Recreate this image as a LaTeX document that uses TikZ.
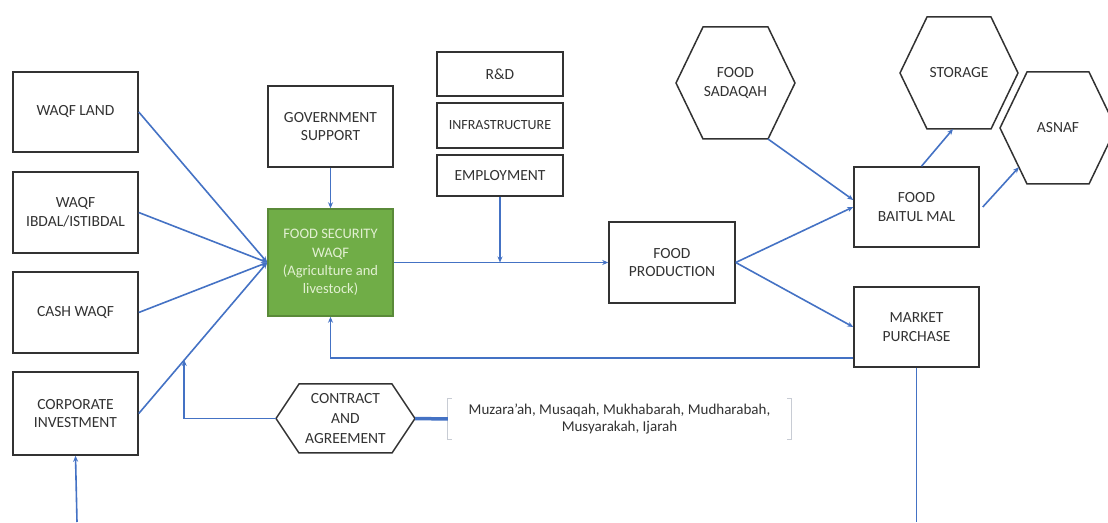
\documentclass[tikz,border=0pt]{standalone}
\usepackage{fontspec}
\setmainfont{Carlito}
\usetikzlibrary{arrows.meta}
\usetikzlibrary{calc}
\usepackage{xcolor}

\definecolor{lineblue}{RGB}{68,114,196}
\definecolor{waqfgreen}{RGB}{112,173,71}
\definecolor{palegreen}{RGB}{226,240,210}
\definecolor{inkgray}{RGB}{50,50,50}
\definecolor{bracketgray}{RGB}{200,204,212}

\tikzset{
  box/.style={draw=inkgray, line width=1.5pt, text=inkgray, align=center,
    minimum width=125pt, minimum height=81pt, inner sep=2pt,
    font=\fontsize{15.5}{18.5}\selectfont},
  hexbox/.style={box, draw=none, outer sep=0pt},
  flow/.style={draw=lineblue, line width=1.6pt, -{Stealth[length=6pt,width=5pt]}},
  link/.style={draw=lineblue, line width=1.6pt},
}

% outline of a flat-topped hexagon round a node: name, inset of the top edge
\newcommand{\hexoutline}[2]{%
  \draw[inkgray, line width=1.5pt] (#1.west) -- ([xshift=#2]#1.north west)
    -- ([xshift=-#2]#1.north east) -- (#1.east) -- ([xshift=-#2]#1.south east)
    -- ([xshift=#2]#1.south west) -- cycle;}

\begin{document}
\begin{tikzpicture}[x=1pt,y=1pt]

  \useasboundingbox (0,0) rectangle (1108,522);
  \clip (0,0) rectangle (1108,522);

  \node[box, minimum height=80pt] (land) at (75.5,410) {WAQF LAND};
  \node[box] (ibdal) at (75.5,309.5) {WAQF\\IBDAL/ISTIBDAL};
  \node[box] (cash) at (75.5,209.5) {CASH WAQF};
  \node[box, minimum height=83pt] (corp) at (75.5,108.5) {CORPORATE\\INVESTMENT};

  \node[box] (gov) at (330.5,395.5) {GOVERNMENT\\SUPPORT};
  \node[box, fill=waqfgreen, draw=waqfgreen!80!black, text=palegreen, minimum height=107pt,
    font=\fontsize{14.5}{18.3}\selectfont]
    (fsw) at (330.5,259.5) {FOOD SECURITY\\WAQF\\(Agriculture and\\livestock)};

  \node[box, minimum width=126pt, minimum height=44pt] (rnd) at (500,448) {R\&D};
  \node[box, minimum width=126pt, minimum height=45pt,
    font=\fontsize{14}{17}\selectfont] (infra) at (500,396.5) {INFRASTRUCTURE};
  \node[box, minimum width=126pt, minimum height=41pt] (employ) at (500,346.5) {EMPLOYMENT};

  \node[box, minimum width=126pt] (prod) at (672,259.5) {FOOD\\PRODUCTION};
  \node[box, minimum height=80pt] (baitul) at (916.5,315) {FOOD\\BAITUL MAL};
  \node[box, minimum height=80pt] (market) at (916.5,195) {MARKET\\PURCHASE};

  \node[hexbox, minimum width=119pt, minimum height=112pt] (sadaqah) at (735.5,439) {FOOD\\SADAQAH};
  \node[hexbox, minimum width=118pt, minimum height=112pt] (storage) at (959,449) {STORAGE};
  \node[hexbox, minimum width=116pt, minimum height=112pt] (asnaf) at (1058,394) {ASNAF};
  \node[hexbox, minimum width=139pt, minimum height=69pt,
    font=\fontsize{15.5}{20}\selectfont] (contract) at (345.5,103.5) {CONTRACT\\AND\\AGREEMENT};
  \hexoutline{sadaqah}{27pt}
  \hexoutline{storage}{27pt}
  \hexoutline{asnaf}{27pt}
  \hexoutline{contract}{23pt}

  \node[align=center, text=inkgray, minimum width=343pt, minimum height=40pt,
    font=\fontsize{15}{17.5}\selectfont] (deals) at (619.5,103)
    {Muzara'ah, Musaqah, Mukhabarah, Mudharabah,\\Musyarakah, Ijarah};
  \draw[bracketgray, line width=1.2pt] ([xshift=4pt]deals.north west) -- (deals.north west)
    -- (deals.south west) -- ([xshift=4pt]deals.south west);
  \draw[bracketgray, line width=1.2pt] ([xshift=-4pt]deals.north east) -- (deals.north east)
    -- (deals.south east) -- ([xshift=-4pt]deals.south east);

  \draw[flow] (land.east) -- (fsw.west);
  \draw[flow] (ibdal.east) -- (fsw.west);
  \draw[flow] (cash.east) -- (fsw.west);
  \draw[flow] (corp.east) -- (fsw.west);
  \draw[flow] (gov.south) -- (fsw.north);

  \draw[flow] (fsw.east) -- (prod.west);
  \draw[flow] (employ.south) -- (employ.south |- fsw.east);

  \draw[flow] (prod.east) -- (baitul.west);
  \draw[flow] (prod.east) -- (market.west);
  \draw[flow] ([xshift=-27pt]sadaqah.south east) -- ([yshift=7pt]baitul.west);
  \draw[flow] ([xshift=5pt]baitul.north) -- ([xshift=-6pt]storage.south);
  \draw[flow] ([xshift=3pt]baitul.east) -- ($(asnaf.west)!0.7!([xshift=27pt]asnaf.south west)$);

  \draw[flow] ([yshift=-31pt]market.west) -| (fsw.south);

  \coordinate (cj) at ($(corp.east)!0.354!(fsw.west)$);
  \draw[flow] (contract.west) -| (cj);
  \draw[lineblue, line width=3.5pt] (contract.east) -- (deals.west);

  \coordinate (marketend) at (market.south |- 0,0);
  \coordinate (corpstart) at (77,0);
  \draw[link] (market.south) -- (marketend);
  \draw[flow] (corpstart) -- (corp.south);

\end{tikzpicture}
\end{document}
